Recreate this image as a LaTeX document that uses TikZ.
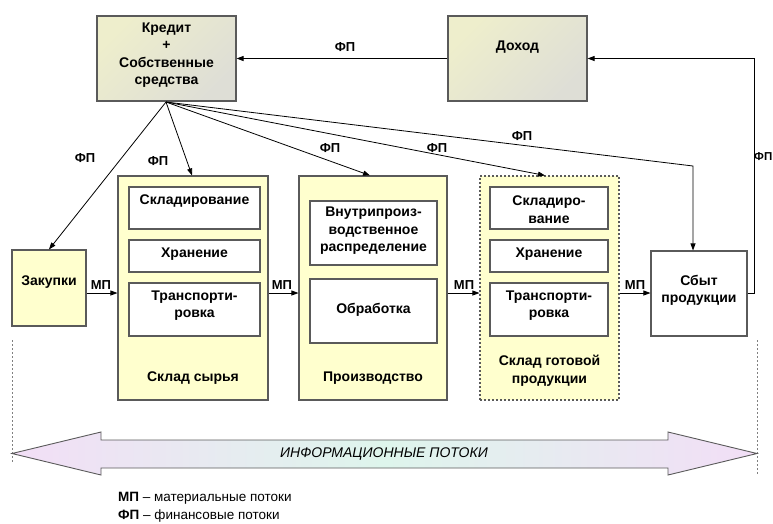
\documentclass[tikz,border=0pt]{standalone}
\usepackage{fontspec}
\setmainfont{Liberation Sans}
\usetikzlibrary{arrows.meta,calc}
\definecolor{boxyel}{RGB}{255,255,206}
\definecolor{bord}{RGB}{90,90,90}
\definecolor{greytop}{RGB}{238,238,204}
\definecolor{greybot}{RGB}{222,222,214}
\definecolor{pinkl}{RGB}{242,222,246}
\definecolor{mintl}{RGB}{222,245,236}
\begin{document}
\begin{tikzpicture}[x=1pt,y=-1pt,
  ybox/.style={draw=bord,line width=1.1pt,fill=boxyel,inner sep=0pt},
  gbox/.style={draw=bord,line width=1.1pt,top color=greytop,bottom color=greybot,shading angle=45,inner sep=0pt},
  wbox/.style={draw=bord,line width=1.1pt,fill=white,inner sep=0pt},
  txt/.style={font=\bfseries\fontsize{14}{17.5}\selectfont,align=center,inner sep=0pt},
  lbl/.style={font=\bfseries\fontsize{13}{15}\selectfont,inner sep=0pt},
  arr/.style={-{Triangle[length=7pt,width=5pt]},line width=0.8pt},
  dotv/.style={draw=gray,line width=1pt,dash pattern=on 2pt off 2pt}]
\useasboundingbox (0,0) rectangle (773,523);

% top boxes
\node[gbox,minimum width=139pt,minimum height=85pt] (cred) at (166.5,58.5) {};
\node[txt] (credt) at (166.5,55) {Кредит\\+\\Собственные\\средства};
\node[gbox,minimum width=139pt,minimum height=85pt] (doh) at (517.5,58.5) {};
\node[txt] (doht) at (517.5,47) {Доход};

% Закупки
\node[ybox,minimum width=74pt,minimum height=76pt] (zak) at (49,288) {};
\node[txt] (zakt) at (49,282) {Закупки};

% Склад сырья
\node[ybox,minimum width=150pt,minimum height=224pt] (skl) at (193,288) {};
\node[wbox,minimum width=131pt,minimum height=42pt] (skl1) at (194.5,208) {};
\node[wbox,minimum width=131pt,minimum height=32pt] (skl2) at (194.5,256) {};
\node[wbox,minimum width=131pt,minimum height=53pt] (skl3) at (194.5,309.5) {};
\node[txt] (skl1t) at (194.5,201) {Складирование};
\node[txt] (skl2t) at (194.5,254) {Хранение};
\node[txt] (skl3t) at (194.5,305.5) {Транспорти-\\ровка};
\node[txt] (sklt) at (193,378) {Склад сырья};

% Производство
\node[ybox,minimum width=148pt,minimum height=224pt] (prod) at (373,288) {};
\node[wbox,minimum width=127pt,minimum height=64pt] (prod1) at (373.5,233) {};
\node[wbox,minimum width=127pt,minimum height=64pt] (prod2) at (373.5,311) {};
\node[txt] (prod1t) at (373.5,231) {Внутрипроиз-\\водственное\\распределение};
\node[txt] (prod2t) at (373.5,310) {Обработка};
\node[txt] (prodt) at (373,378) {Производство};

% Склад готовой продукции
\node[ybox,dash pattern=on 2pt off 2pt,minimum width=139pt,minimum height=224pt] (got) at (549.5,288) {};
\node[wbox,minimum width=118pt,minimum height=42pt] (got1) at (549,208) {};
\node[wbox,minimum width=118pt,minimum height=32pt] (got2) at (549,256) {};
\node[wbox,minimum width=118pt,minimum height=53pt] (got3) at (549,309.5) {};
\node[txt] (got1t) at (549,209.5) {Складиро-\\вание};
\node[txt] (got2t) at (549,254) {Хранение};
\node[txt] (got3t) at (549,305.5) {Транспорти-\\ровка};
\node[txt] (gott) at (549.5,370.5) {Склад готовой\\продукции};

% Сбыт
\node[draw=bord,line width=1.1pt,fill=white,minimum width=96pt,minimum height=85pt,inner sep=0pt] (sbyt) at (699,293.5) {};
\node[txt] (sbytt) at (699,290.5) {Сбыт\\продукции};

% material flows
\coordinate (mp) at (0,293);
\draw[arr] (zak.east |- mp) -- (skl.west |- mp);
\draw[arr] (skl.east |- mp) -- (prod.west |- mp);
\draw[arr] (prod.east |- mp) -- (got.west |- mp);
\draw[arr] (got.east |- mp) -- (sbyt.west |- mp);
\node[lbl] (mp1) at (101,285) {МП};
\node[lbl] (mp2) at (282,285) {МП};
\node[lbl] (mp3) at (464,285) {МП};
\node[lbl] (mp4) at (635,285) {МП};

% financial flows
\coordinate (apex) at (166,102);
\coordinate (bend) at (693,166);
\coordinate (rt) at (754,293);
\draw[arr] (apex) -- (zak.north);
\draw[arr] (apex) -- ([xshift=-1pt]skl.north);
\draw[arr] (apex) -- ([xshift=-3pt]prod.north);
\draw[arr] (apex) -- ([xshift=-4.5pt]got.north);
\draw[arr] (apex) -- (bend) -- (bend |- sbyt.north);
\draw[arr] (sbyt.east |- mp) -- (rt) |- (doh.east);
\draw[arr] (doh.west) -- (cred.east);
\node[lbl] (fp0) at (345,47) {ФП};
\node[lbl] (fp1) at (85,158) {ФП};
\node[lbl] (fp2) at (158,161) {ФП};
\node[lbl] (fp3) at (330,148) {ФП};
\node[lbl] (fp4) at (437,148) {ФП};
\node[lbl] (fp5) at (522,136) {ФП};
\node[lbl,font=\bfseries\fontsize{11.5}{14}\selectfont,anchor=east] (fp6) at (772.5,157) {ФП};

% dotted verticals
\draw[dotv] (12,340) -- (12,463);
\draw[dotv] (757,340) -- (757,475);

% information arrow
\draw[draw=bord,line width=0.9pt,left color=pinkl,right color=pinkl,middle color=mintl]
  (12,453.5) -- (101,432) -- (101,440) -- (668,440) -- (668,432) -- (757,453.5)
  -- (668,475) -- (668,468) -- (101,468) -- (101,475) -- cycle;
\node[font=\itshape\fontsize{14}{16}\selectfont,inner sep=0pt] (info) at (384,453.5) {ИНФОРМАЦИОННЫЕ ПОТОКИ};

% legend
\node[anchor=west,font=\fontsize{13.5}{15}\selectfont,inner sep=0pt] (leg1) at (118,498) {\textbf{МП} – материальные потоки};
\node[anchor=west,font=\fontsize{13.5}{15}\selectfont,inner sep=0pt] (leg2) at (118,516) {\textbf{ФП} – финансовые потоки};
\end{tikzpicture}
\end{document}
